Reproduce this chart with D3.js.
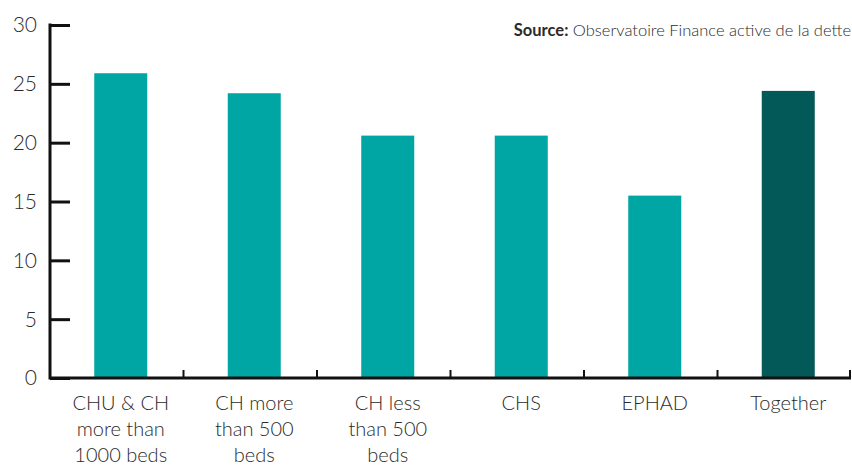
<!DOCTYPE html>
<html>
<head>
<meta charset="utf-8">
<script src="https://cdn.jsdelivr.net/npm/d3@7"></script>
<style>
  body { margin: 0; background: #fff; }
  text { font-family: Lato, "Open Sans", sans-serif; fill: #2b2b2b; }
</style>
</head>
<body>
<div id="chart"></div>
<script>
// data
var categories = ["CHU & CH more than 1000 beds", "CH more than 500 beds", "CH less than 500 beds", "CHS", "EPHAD", "Together"];
var labelLines = [["CHU & CH", "more than", "1000 beds"], ["CH more", "than 500", "beds"], ["CH less", "than 500", "beds"], ["CHS"], ["EPHAD"], ["Together"]];
var values = [25.9, 24.2, 20.6, 20.6, 15.5, 24.4];
var yTicks = [0, 5, 10, 15, 20, 25, 30];

var width = 852;
var height = 466;
var margin = { left: 50, right: 1, top: 25, bottom: 88 };

var svg = d3.select("#chart").
    append("svg").
    attr("width", width).
    attr("height", height);

var xScale = d3.scaleBand().
    domain(categories).
    range([margin.left, width - margin.right]);

var yScale = d3.scaleLinear().
    domain([0, 30]).
    range([height - margin.bottom, margin.top]);

var barW = 53;

svg.selectAll("rect.bar").
    data(values).
    enter().
    append("rect").
    attr("class", "bar").
    attr("x", function (d, i) {
        return xScale(categories[i]) + xScale.bandwidth() / 2 + 4 - barW / 2;
    }).
    attr("y", function (d) { return yScale(d); }).
    attr("width", barW).
    attr("height", function (d) { return yScale(0) - yScale(d); }).
    attr("fill", function (d, i) {
        return i == categories.length - 1 ? "#035858" : "#00a6a3";
    });

// y axis, ticks pointing into the plot
var yAxis = d3.axisRight(yScale).
    tickValues(yTicks).
    tickSize(20).
    tickFormat("");

var gy = svg.append("g").
    attr("transform", "translate(" + margin.left + ",0)").
    call(yAxis);
gy.select(".domain").remove();
gy.selectAll(".tick line").attr("stroke", "#111").attr("stroke-width", 3);

svg.append("line").
    attr("x1", margin.left).attr("x2", margin.left).
    attr("y1", yScale(30) - 1.5).attr("y2", yScale(0) + 1.5).
    attr("stroke", "#111").attr("stroke-width", 3);

svg.selectAll("text.ylab").
    data(yTicks).
    enter().
    append("text").
    attr("class", "ylab").
    attr("x", 37).
    attr("y", function (d) { return yScale(d); }).
    attr("dy", "0.35em").
    attr("text-anchor", "end").
    attr("font-size", 21).
    attr("font-weight", 300).
    text(function (d) { return d; });

// x axis
svg.append("line").
    attr("x1", margin.left).attr("x2", width - margin.right).
    attr("y1", yScale(0)).attr("y2", yScale(0)).
    attr("stroke", "#111").attr("stroke-width", 3);

var bounds = categories.slice(1).map(function (c) { return xScale(c); });
bounds.push(xScale(categories[categories.length - 1]) + xScale.bandwidth() - 1);

svg.selectAll("line.xtick").
    data(bounds).
    enter().
    append("line").
    attr("class", "xtick").
    attr("x1", function (d) { return d; }).
    attr("x2", function (d) { return d; }).
    attr("y1", yScale(0)).
    attr("y2", yScale(0) - 8).
    attr("stroke", "#111").
    attr("stroke-width", 2);

var labels = svg.selectAll("text.xlab").
    data(labelLines).
    enter().
    append("text").
    attr("class", "xlab").
    attr("text-anchor", "middle").
    attr("font-size", 20).
    attr("font-weight", 300).
    attr("transform", function (d, i) {
        var cx = xScale(categories[i]) + xScale.bandwidth() / 2 + 4;
        return "translate(" + cx + "," + (yScale(0) + 32) + ")";
    });

labels.selectAll("tspan").
    data(function (d) { return d; }).
    enter().
    append("tspan").
    attr("x", 0).
    attr("y", function (d, i) { return i * 26; }).
    text(function (d) { return d; });

// source note
var src = svg.append("text").
    attr("x", width - 1).
    attr("y", 36).
    attr("text-anchor", "end").
    attr("font-size", 16.5);
src.append("tspan").attr("font-weight", "bold").text("Source:");
src.append("tspan").attr("font-weight", 300).text(" Observatoire Finance active de la dette");
</script>
</body>
</html>
